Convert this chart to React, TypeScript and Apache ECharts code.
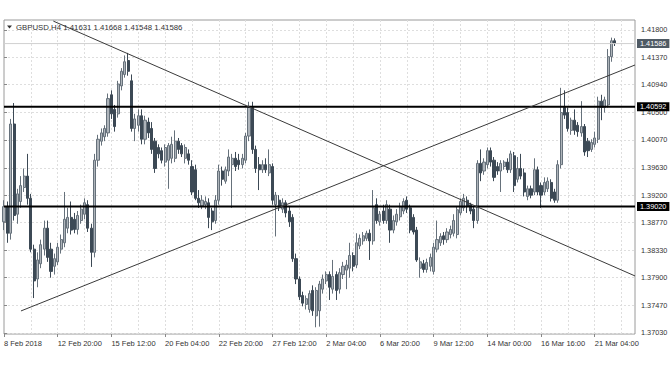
import React, { useEffect, useRef } from 'react';
import * as echarts from 'echarts';

const symbol = 'GBPUSD';
const timeframe = 'H4';

const opens = [
  1.3878,1.3902,1.3860,1.4032,1.3890,1.3910,1.3932,1.3950,1.3915,1.3835,
  1.3788,1.3812,1.3835,1.3868,1.3835,1.3808,1.3815,1.3835,1.3845,1.3868,
  1.3885,1.3882,1.3866,1.3880,1.3890,1.3905,1.3868,1.3830,1.3975,1.4005,
  1.4012,1.4018,1.4078,1.4055,1.4048,1.4092,1.4110,1.4132,1.4100,1.4025,
  1.4030,1.4045,1.4008,1.4035,1.4025,1.4005,1.3995,1.3990,1.3972,1.3975,
  1.3978,1.3978,1.4005,1.3998,1.3978,1.3985,1.3965,1.3960,1.3915,1.3903,
  1.3905,1.3908,1.3895,1.3880,1.3912,1.3958,1.3942,1.3958,1.3968,1.3978,
  1.3975,1.3968,1.3975,1.4013,1.4058,1.3992,1.3968,1.3960,1.3968,1.3955,
  1.3965,1.3905,1.3912,1.3898,1.3908,1.3895,1.3885,1.3820,1.3788,1.3762,
  1.3748,1.3740,1.3770,1.3730,1.3738,1.3772,1.3785,1.3795,1.3772,1.3795,
  1.3772,1.3795,1.3802,1.3805,1.3825,1.3810,1.3840,1.3848,1.3852,1.3860,
  1.3848,1.3905,1.3878,1.3895,1.3880,1.3898,1.3865,1.3878,1.3886,1.3895,
  1.3912,1.3900,1.3885,1.3865,1.3805,1.3812,1.3803,1.3808,1.3800,1.3835,
  1.3845,1.3856,1.3850,1.3858,1.3860,1.3858,1.3892,1.3900,1.3912,1.3905,
  1.3898,1.3880,1.3970,1.3958,1.3968,1.3990,1.3975,1.3965,1.3958,1.3965,
  1.3972,1.3960,1.3982,1.3945,1.3962,1.3955,1.3918,1.3930,1.3925,1.3960,
  1.3935,1.3925,1.3930,1.3940,1.3925,1.3912,1.3968,1.4058,1.4050,1.4022,
  1.4038,1.4030,1.4018,1.4028,1.4005,1.3992,1.4000,1.4008,1.4068,1.4058,
  1.4062,1.4138,1.41631,
];

const highs = [
  1.3912,1.3910,1.4040,1.4065,1.3930,1.3950,1.3962,1.3985,1.3922,1.3842,
  1.3830,1.3850,1.3880,1.3880,1.3845,1.3828,1.3845,1.3858,1.3925,1.3900,
  1.3910,1.3892,1.3895,1.3905,1.3915,1.3912,1.3875,1.3985,1.4015,1.4025,
  1.4030,1.4080,1.4085,1.4062,1.4100,1.4120,1.4140,1.4144,1.4110,1.4048,
  1.4055,1.4055,1.4045,1.4042,1.4035,1.4010,1.4000,1.3995,1.4000,1.4002,
  1.4012,1.4022,1.4010,1.4002,1.4000,1.3992,1.3975,1.3968,1.3928,1.3920,
  1.3918,1.3915,1.3900,1.3920,1.3968,1.3965,1.3965,1.3992,1.3985,1.3988,
  1.3985,1.3985,1.4018,1.4067,1.4067,1.3998,1.3980,1.3975,1.3978,1.3992,
  1.3970,1.3925,1.3920,1.3915,1.3912,1.3902,1.3890,1.3828,1.3792,1.3768,
  1.3762,1.3770,1.3778,1.3775,1.3785,1.3795,1.3800,1.3800,1.3818,1.3800,
  1.3805,1.3815,1.3818,1.3845,1.3830,1.3860,1.3858,1.3862,1.3864,1.3866,
  1.3928,1.3915,1.3895,1.3905,1.3912,1.3905,1.3888,1.3898,1.3908,1.3915,
  1.3918,1.3905,1.3890,1.3870,1.3822,1.3818,1.3820,1.3828,1.3845,1.3880,
  1.3860,1.3862,1.3868,1.3872,1.3890,1.3902,1.3915,1.3922,1.3918,1.3908,
  1.3902,1.3975,1.3992,1.3978,1.3995,1.3995,1.3980,1.3972,1.3975,1.3975,
  1.3978,1.3990,1.3988,1.3980,1.3985,1.3962,1.3935,1.3935,1.3978,1.3965,
  1.3940,1.3948,1.3948,1.3945,1.3930,1.3975,1.4089,1.4085,1.4058,1.4042,
  1.4055,1.4035,1.4068,1.4032,1.4010,1.4008,1.4020,1.4075,1.4078,1.4075,
  1.4150,1.4168,1.41668,
];

const lows = [
  1.3865,1.3845,1.3850,1.3880,1.3875,1.3900,1.3925,1.3905,1.3830,1.3758,
  1.3775,1.3805,1.3825,1.3815,1.3790,1.3795,1.3810,1.3828,1.3838,1.3860,
  1.3858,1.3860,1.3858,1.3875,1.3882,1.3862,1.3807,1.3822,1.3965,1.3998,
  1.4005,1.4012,1.4040,1.4020,1.4042,1.4085,1.4105,1.4108,1.4020,1.4005,
  1.4020,1.4000,1.4000,1.4010,1.3985,1.3955,1.3978,1.3970,1.3965,1.3930,
  1.3970,1.3972,1.3985,1.3980,1.3970,1.3968,1.3920,1.3912,1.3900,1.3898,
  1.3898,1.3868,1.3865,1.3875,1.3905,1.3935,1.3938,1.3950,1.3900,1.3958,
  1.3960,1.3962,1.3970,1.4005,1.3985,1.3955,1.3928,1.3955,1.3955,1.3950,
  1.3905,1.3855,1.3895,1.3892,1.3885,1.3870,1.3815,1.3780,1.3755,1.3745,
  1.3740,1.3735,1.3730,1.3712,1.3713,1.3765,1.3780,1.3755,1.3765,1.3755,
  1.3765,1.3788,1.3772,1.3790,1.3800,1.3805,1.3835,1.3842,1.3848,1.3818,
  1.3842,1.3875,1.3872,1.3875,1.3875,1.3845,1.3860,1.3872,1.3880,1.3890,
  1.3892,1.3860,1.3858,1.3815,1.3790,1.3798,1.3798,1.3800,1.3795,1.3830,
  1.3840,1.3842,1.3845,1.3852,1.3855,1.3852,1.3888,1.3895,1.3892,1.3890,
  1.3868,1.3875,1.3942,1.3952,1.3962,1.3965,1.3942,1.3952,1.3925,1.3960,
  1.3955,1.3955,1.3925,1.3940,1.3945,1.3918,1.3912,1.3915,1.3920,1.3920,
  1.3900,1.3920,1.3925,1.3910,1.3908,1.3908,1.3962,1.4040,1.4020,1.4015,
  1.4015,1.4012,1.4012,1.3982,1.3980,1.3988,1.3995,1.4002,1.4038,1.4050,
  1.4058,1.4130,1.41548,
];

const closes = [
  1.3902,1.3860,1.4032,1.3888,1.3922,1.3935,1.3950,1.3915,1.3835,1.3785,
  1.3818,1.3842,1.3868,1.3822,1.3800,1.3820,1.3838,1.3850,1.3882,1.3885,
  1.3865,1.3866,1.3888,1.3898,1.3908,1.3868,1.3830,1.3975,1.4008,1.4018,
  1.4025,1.4072,1.4048,1.4028,1.4095,1.4115,1.4130,1.4115,1.4025,1.4040,
  1.4045,1.4008,1.4038,1.4018,1.3992,1.3962,1.3985,1.3975,1.3995,1.3998,
  1.4000,1.4005,1.3992,1.3985,1.3995,1.3975,1.3925,1.3915,1.3908,1.3912,
  1.3910,1.3885,1.3878,1.3912,1.3958,1.3945,1.3960,1.3980,1.3978,1.3965,
  1.3968,1.3978,1.4013,1.4058,1.3992,1.3962,1.3960,1.3968,1.3960,1.3968,
  1.3912,1.3920,1.3900,1.3908,1.3892,1.3878,1.3820,1.3788,1.3760,1.3750,
  1.3757,1.3765,1.3738,1.3770,1.3780,1.3788,1.3795,1.3775,1.3792,1.3770,
  1.3798,1.3808,1.3810,1.3825,1.3808,1.3845,1.3852,1.3856,1.3860,1.3848,
  1.3900,1.3880,1.3890,1.3880,1.3905,1.3865,1.3880,1.3890,1.3902,1.3910,
  1.3898,1.3865,1.3862,1.3818,1.3815,1.3803,1.3814,1.3822,1.3838,1.3850,
  1.3855,1.3850,1.3862,1.3866,1.3880,1.3897,1.3910,1.3915,1.3902,1.3895,
  1.3880,1.3970,1.3955,1.3972,1.3990,1.3972,1.3948,1.3958,1.3970,1.3972,
  1.3960,1.3985,1.3935,1.3962,1.3950,1.3925,1.3930,1.3920,1.3960,1.3925,
  1.3920,1.3940,1.3942,1.3915,1.3912,1.3968,1.4050,1.4046,1.4025,1.4038,
  1.4022,1.4020,1.4028,1.3988,1.3990,1.4003,1.4010,1.4068,1.4058,1.4070,
  1.4138,1.4163,1.41586,
];

// time labels every 16 H4 bars
const timeLabels = [
  '8 Feb 2018', '12 Feb 20:00', '15 Feb 12:00', '20 Feb 04:00', '22 Feb 20:00', '27 Feb 12:00',
  '2 Mar 04:00', '6 Mar 20:00', '9 Mar 12:00', '14 Mar 00:00', '16 Mar 16:00', '21 Mar 04:00',
];
const labelEvery = 16;
const gridEvery = 8;
const shiftBars = 6; // empty space right of the last bar

const priceTicks = [1.37030, 1.37470, 1.37900, 1.38330, 1.38770, 1.39200, 1.39630, 1.40070, 1.40500, 1.40940, 1.41370, 1.41800];
const priceMin = 1.370141;
const priceMax = 1.419574;

const levels = [1.40592, 1.39020];
const bidPrice = 1.41586;

// trend lines: [bar index, price]
const resistanceLine = [[14.7, 1.4194], [188, 1.37928]];
const supportLine = [[5.06, 1.37377], [188, 1.41249]];

const FONT = 'Liberation Sans, Arial, sans-serif';

export default function App() {
  const ref = useRef<HTMLDivElement>(null);

  useEffect(() => {
    const chart = echarts.init(ref.current!, null, { renderer: 'svg' });
    const n = closes.length;
    const total = n + shiftBars;
    const right = total - 1;
    const cats = Array.from({ length: total }, (_, i) => String(i));
    const candles = opens.map((o, i) => [o, closes[i], lows[i], highs[i]]);
    const last = n - 1;
    const header = `${symbol},${timeframe} ${opens[last].toFixed(5)} ${highs[last].toFixed(5)} ${lows[last].toFixed(5)} ${closes[last].toFixed(5)}`;
    const isLabel = (i: number) => i % labelEvery === 0 && i / labelEvery < timeLabels.length;

    const hLine = (v: number, color: string, width: number, boxColor: string, z: number) => ({
      type: 'line', xAxisIndex: 1, data: [[0, v], [right, v]], symbol: 'none', silent: true, z,
      lineStyle: { color, width, type: 'solid' },
      endLabel: {
        show: true, distance: 2, formatter: () => v.toFixed(5),
        backgroundColor: boxColor, color: '#fff',
        padding: [1, 3, 1, 3], fontSize: 7.3, fontFamily: FONT,
      },
    });

    const option: any = {
      animation: false,
      backgroundColor: '#fff',
      textStyle: { fontFamily: FONT },
      title: {
        text: header, left: 16, top: 23, padding: 0,
        textStyle: { fontSize: 7.8, fontWeight: 'normal', color: '#333', fontFamily: FONT },
      },
      grid: {
        left: 4, right: 37, top: 20, bottom: 38,
        show: true, borderColor: '#9a9a9a', borderWidth: 1,
        containLabel: false, outerBoundsMode: 'none',
      },
      xAxis: [
        {
          type: 'category', data: cats, boundaryGap: false,
          axisLine: { show: false },
          axisTick: { show: true, interval: (i: number) => isLabel(i), length: 3, lineStyle: { color: '#888' } },
          axisLabel: {
            show: true, interval: (i: number) => isLabel(i),
            formatter: (_v: string, i: number) => timeLabels[i / labelEvery] ?? '',
            align: 'left', fontSize: 7.5, color: '#333', margin: 5, fontFamily: FONT,
          },
          splitLine: {
            show: true, interval: (i: number) => i % gridEvery === 0 && i > 0,
            lineStyle: { color: '#dedede', type: [2, 2], width: 1 },
          },
        },
        { type: 'value', min: 0, max: right, show: false },
      ],
      yAxis: {
        type: 'value', position: 'right', min: priceMin, max: priceMax,
        axisLine: { show: false },
        axisTick: { show: true, customValues: priceTicks, length: 3, lineStyle: { color: '#888' } },
        axisLabel: { show: false, customValues: priceTicks },
        splitLine: { show: true, lineStyle: { color: '#dedede', type: [2, 2], width: 1 } },
      },
      series: [
        {
          type: 'candlestick',
          data: candles,
          barWidth: 2.6,
          clip: true,
          z: 3,
          itemStyle: {
            color: '#aeb4ba', borderColor: '#66717b',
            color0: '#3c4955', borderColor0: '#3c4955', borderWidth: 1,
          },
        },
        hLine(bidPrice, '#d0d0d0', 1, '#4f5a64', 4),
        ...levels.map((v) => hLine(v, '#000', 2, '#000', 5)),
        {
          type: 'line', xAxisIndex: 1, data: resistanceLine, symbol: 'none', silent: true,
          lineStyle: { color: '#3a3a3a', width: 1 }, z: 6,
        },
        {
          type: 'line', xAxisIndex: 1, data: supportLine, symbol: 'none', silent: true,
          lineStyle: { color: '#3a3a3a', width: 1 }, z: 6,
        },
      ],
    };
    chart.setOption(option);

    // price scale texts, positioned through the y axis scale
    const axisX = chart.convertToPixel({ xAxisIndex: 1 }, right) as number;
    const priceTexts = priceTicks.map((p) => ({
      type: 'text', z: 1, silent: true,
      x: axisX + 6,
      y: chart.convertToPixel({ yAxisIndex: 0 }, p) as number,
      style: { text: p.toFixed(5), fill: '#333', fontSize: 7.3, fontFamily: FONT, verticalAlign: 'middle', align: 'left' },
    }));
    chart.setOption({
      graphic: [
        { type: 'polygon', silent: true, shape: { points: [[7, 25.5], [12, 25.5], [9.5, 28.5]] }, style: { fill: '#333' } },
        ...priceTexts,
      ],
    });
    return () => chart.dispose();
  }, []);

  return (
    <div
      ref={ref}
      style={{ position: 'fixed', left: 0, top: 0, width: 672, height: 372, background: '#fff' }}
    />
  );
}
